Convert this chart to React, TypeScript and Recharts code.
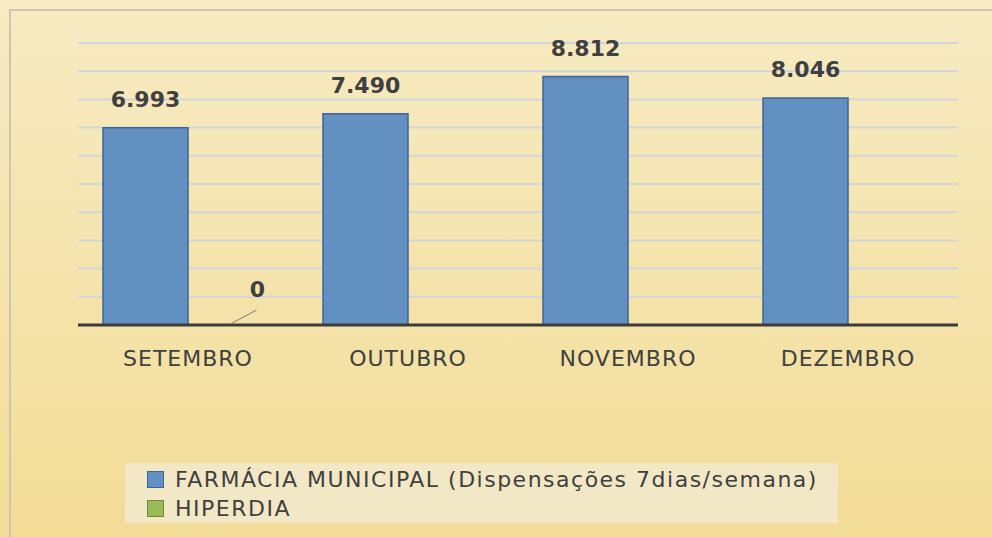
import { BarChart, Bar, XAxis, YAxis, CartesianGrid, LabelList } from 'recharts';

const months = ['SETEMBRO', 'OUTUBRO', 'NOVEMBRO', 'DEZEMBRO'];
const farmacia = [6993, 7490, 8812, 8046];
const hiperdia: (number | null)[] = [0, null, null, null];
const yTicks = [0, 1000, 2000, 3000, 4000, 5000, 6000, 7000, 8000, 9000, 10000];

const seriesNames = ['FARMÁCIA MUNICIPAL (Dispensações 7dias/semana)', 'HIPERDIA'];
const seriesFill = ['#6290c0', '#9bbb59'];
const seriesStroke = ['#3d6697', '#71893f'];

const data = months.map((m, i) => ({ month: m, farmacia: farmacia[i], hiperdia: hiperdia[i] }));

const FONT = '"DejaVu Sans", sans-serif';
const fmt = (v: number) => new Intl.NumberFormat('de-DE').format(v);

// farmacia label; also places the HIPERDIA label (zero-height bars get no label of their own)
const TopLabel = (props: any) => {
  const { x, y, width, height, value, index } = props;
  if (value == null) return null;
  const h = hiperdia[index];
  const base = y + height;
  const hx = x + width * 1.5;
  return (
    <g>
      <text x={x + width / 2} y={y - 21} textAnchor="middle" fill="#404040" fontSize={22} fontWeight="bold" fontFamily={FONT}>
        {fmt(value)}
      </text>
      {h != null && (
        <g>
          <line x1={hx} y1={base - 1} x2={hx + 26} y2={base - 15} stroke="#7a7a7a" strokeWidth={1} />
          <text x={hx + 27} y={base - 28} textAnchor="middle" fill="#404040" fontSize={22} fontWeight="bold" fontFamily={FONT}>
            {fmt(h)}
          </text>
        </g>
      )}
    </g>
  );
};

const MonthTick = (props: any) => {
  const { x, y, payload } = props;
  return (
    <text x={x} y={y + 41} textAnchor="middle" fill="#404040" fontSize={22} fontFamily={FONT} letterSpacing={1}>
      {payload.value}
    </text>
  );
};

const LegendBox = () => (
  <div
    style={{
      position: 'absolute',
      left: 125,
      top: 463,
      width: 713,
      height: 60,
      background: '#f3e8c5',
      fontFamily: FONT,
      fontSize: 22,
      color: '#404040',
      padding: '2px 0 0 22px',
      boxSizing: 'border-box',
    }}
  >
    {seriesNames.map((name, i) => (
      <div key={name} style={{ display: 'flex', alignItems: 'center', height: 29, letterSpacing: 1.5, whiteSpace: 'nowrap' }}>
        <span style={{ width: 15, height: 15, background: seriesFill[i], border: `1.5px solid ${seriesStroke[i]}`, marginRight: 11, flexShrink: 0 }} />
        {name}
      </div>
    ))}
  </div>
);

export default function App() {
  return (
    <div
      style={{
        position: 'absolute',
        left: 0,
        top: 0,
        width: 992,
        height: 537,
        background: 'linear-gradient(180deg, #f7ebc3 0%, #f4e2a8 60%, #f3dc96 100%)',
        overflow: 'hidden',
      }}
    >
      <div style={{ position: 'absolute', left: 9, top: 9, right: 0, bottom: 0, borderTop: '2px solid #cdc6b4', borderLeft: '2px solid #cdc6b4' }} />
      <div style={{ position: 'absolute', left: 0, top: 0 }}>
        <BarChart width={992} height={537} data={data} margin={{ top: 43, right: 34, left: 78, bottom: 182 }} barCategoryGap={25} barGap={0}>
          <CartesianGrid vertical={false} stroke="#d2d6da" strokeWidth={2} />
          <YAxis hide domain={[0, 10000]} ticks={yTicks} />
          <XAxis
            dataKey="month"
            height={30}
            axisLine={{ stroke: '#3c3c3c', strokeWidth: 3 }}
            tickLine={false}
            tickSize={0}
            tickMargin={0}
            tick={<MonthTick />}
            interval={0}
          />
          <Bar dataKey="farmacia" name={seriesNames[0]} fill={seriesFill[0]} stroke={seriesStroke[0]} strokeWidth={1.5} isAnimationActive={false}>
            <LabelList dataKey="farmacia" content={<TopLabel />} />
          </Bar>
          <Bar dataKey="hiperdia" name={seriesNames[1]} fill={seriesFill[1]} stroke={seriesStroke[1]} strokeWidth={1.5} isAnimationActive={false} />
        </BarChart>
      </div>
      <LegendBox />
    </div>
  );
}
